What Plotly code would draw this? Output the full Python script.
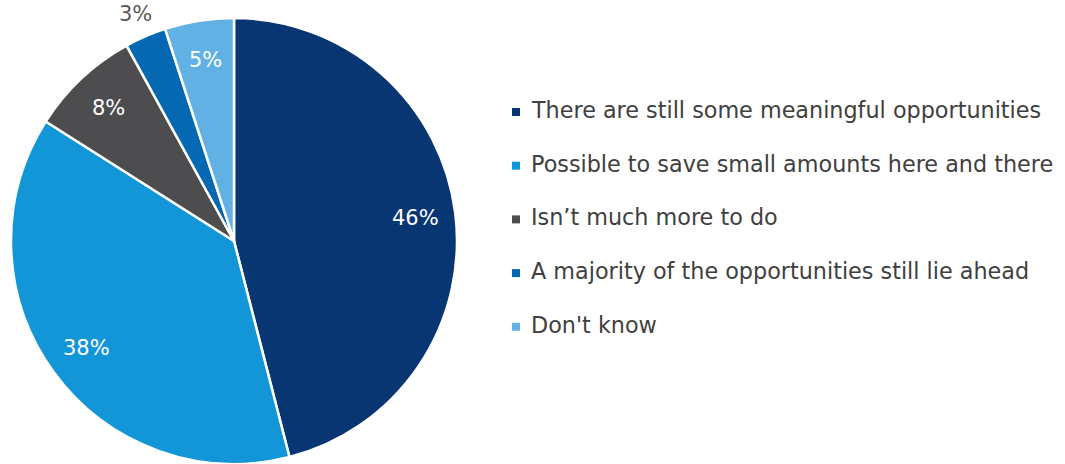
import math
import plotly.graph_objects as go

# Survey responses
categories = [
    "There are still some meaningful opportunities",
    "Possible to save small amounts here and there",
    "Isn\u2019t much more to do",
    "A majority of the opportunities still lie ahead",
    "Don't know",
]
shares = [46, 38, 8, 3, 5]
colors = ["#073673", "#1396d8", "#4d4d4f", "#0568b3", "#62b1e4"]

W, H = 1065, 464
CX, CY, R = 234, 241, 223  # pie centre / radius in pixels (from top-left)

fig = go.Figure(
    go.Pie(
        labels=categories,
        values=shares,
        sort=False,
        direction="clockwise",
        rotation=0,
        marker=dict(colors=colors, line=dict(color="white", width=2.5)),
        textinfo="none",
        hoverinfo="label+percent",
        showlegend=False,
        domain=dict(x=[(CX - R) / W, (CX + R) / W], y=[(H - CY - R) / H, (H - CY + R) / H]),
    )
)


def px_to_paper(x, y):
    return x / W, (H - y) / H


annotations = []
shapes = []

# Percentage labels placed along each slice's mid-angle
total = sum(shares)
cum = 0
for val in shares:
    mid = (cum + val / 2) / total * 2 * math.pi
    cum += val
    outside = val < 4
    rr = R * (1.11 if outside else 0.82)
    lx = CX + rr * math.sin(mid)
    ly = CY - rr * math.cos(mid)
    px, py = px_to_paper(lx, ly)
    annotations.append(
        dict(
            x=px, y=py, xref="paper", yref="paper",
            text=f"{val}%", showarrow=False,
            xanchor="center", yanchor="middle",
            font=dict(family="DejaVu Sans, sans-serif", size=21,
                      color="#595959" if outside else "white"),
        )
    )

# Legend drawn as squares + text
LX, LY0, LSTEP, SQ = 516, 112, 53.7, 8
for i, (name, col) in enumerate(zip(categories, colors)):
    yc = LY0 + i * LSTEP
    x0, y0 = px_to_paper(LX - SQ / 2, yc + SQ / 2)
    x1, y1 = px_to_paper(LX + SQ / 2, yc - SQ / 2)
    shapes.append(dict(type="rect", xref="paper", yref="paper",
                       x0=x0, y0=y0, x1=x1, y1=y1,
                       fillcolor=col, line=dict(width=0)))
    tx, ty = px_to_paper(529, yc - 2)
    annotations.append(
        dict(
            x=tx, y=ty, xref="paper", yref="paper",
            text=name, showarrow=False,
            xanchor="left", yanchor="middle",
            font=dict(family="DejaVu Sans, sans-serif", size=22.3, color="#404040"),
        )
    )

fig.update_layout(
    width=W, height=H,
    margin=dict(l=0, r=0, t=0, b=0),
    paper_bgcolor="white",
    plot_bgcolor="white",
    annotations=annotations,
    shapes=shapes,
)

fig.write_html("out.html")
